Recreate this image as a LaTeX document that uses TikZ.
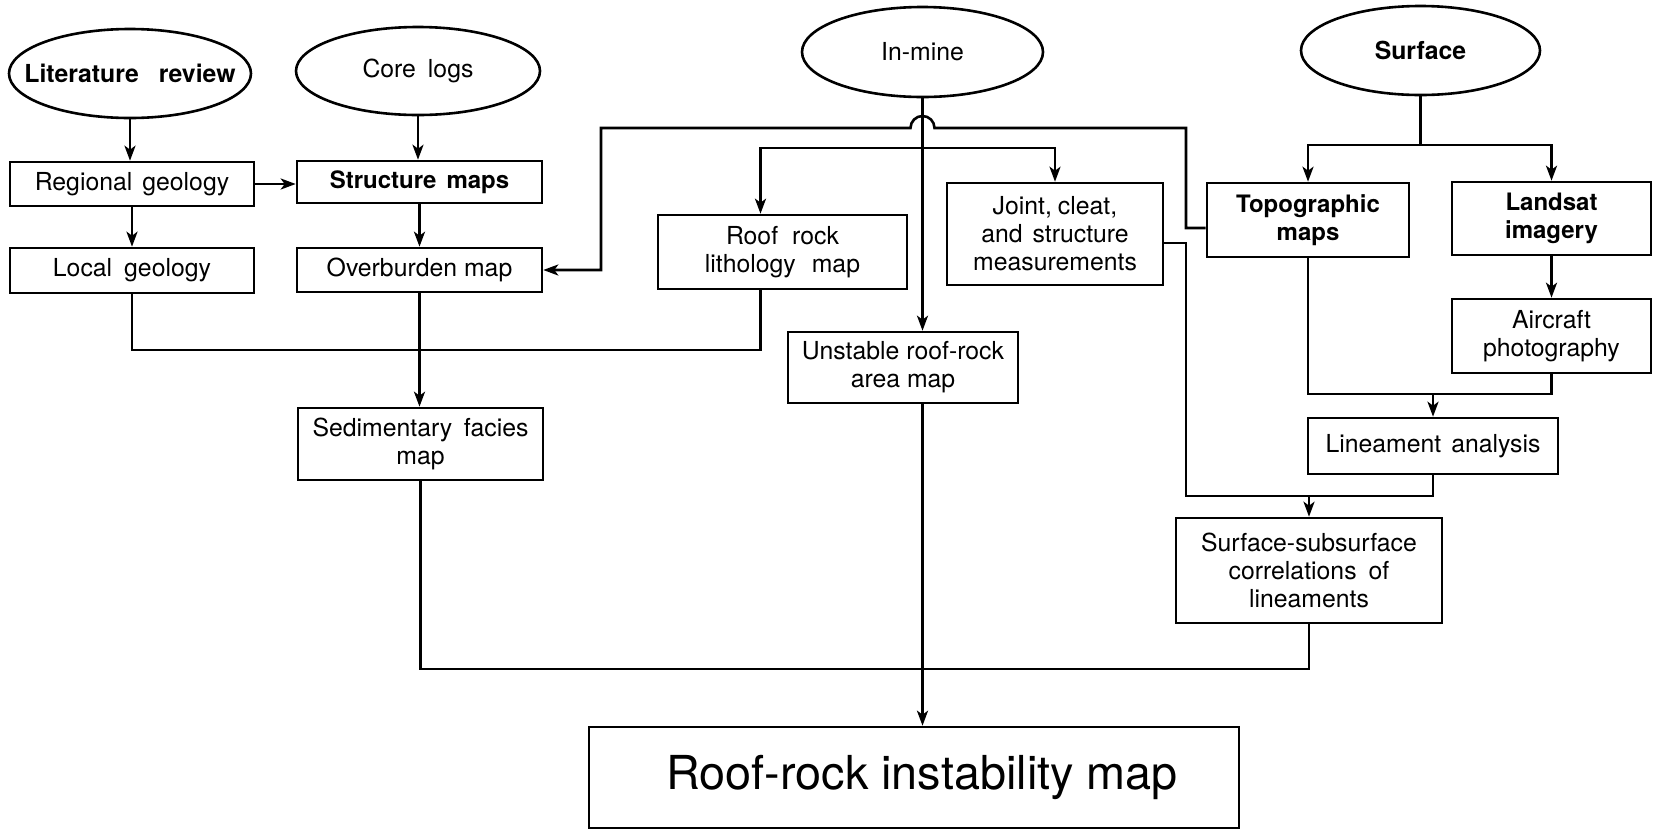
\documentclass[tikz,border=0pt]{standalone}
\usepackage{fontspec}
\setmainfont{TeX Gyre Heros}
\usetikzlibrary{shapes.geometric,arrows.meta,calc}
\newcommand{\wsp}[1]{\hspace{#1pt}}
\begin{document}
\begin{tikzpicture}[x=0.5pt,y=-0.5pt,line width=1.3pt,
  arr/.style={-{Stealth[length=7.5pt,width=5.5pt,inset=2pt]}},
  boxnode/.style={draw, rectangle, inner sep=0pt, align=center, font=\fontsize{12.4}{14}\selectfont},
  boldbox/.style={boxnode, font=\fontsize{12}{14}\selectfont\bfseries},
  oval/.style={draw, ellipse, inner sep=0pt, font=\fontsize{12.4}{14}\selectfont}]
\useasboundingbox (0,0) rectangle (1653,831);

% ovals
\node[oval, minimum width=121pt, minimum height=44.5pt] (lit) at (130,73.5) {\makebox[0pt]{\bfseries Literature\wsp{10}review}};
\node[oval, minimum width=122pt, minimum height=44pt] (core) at (418,71) {\makebox[0pt]{Core\wsp{6}logs}};
\node[oval, minimum width=120.5pt, minimum height=45pt] (inmine) at (922.5,52) {\makebox[0pt]{In-mine}};
\node[oval, minimum width=119.5pt, minimum height=44.5pt] (surface) at (1420.5,50.5) {\makebox[0pt]{\bfseries Surface}};

% boxes
\node[boxnode, minimum width=122pt, minimum height=22pt] (regional) at (132,184) {Regional\wsp{5}geology};
\node[boldbox, minimum width=122.5pt, minimum height=21pt] (structure) at (419.5,182) {Structure\wsp{5}maps};
\node[boxnode, minimum width=122pt, minimum height=22.5pt] (local) at (132,270.5) {Local\wsp{6}geology};
\node[boxnode, minimum width=122.5pt, minimum height=22pt] (overburden) at (419.5,270) {Overburden map};
\node[boxnode, minimum width=124.5pt, minimum height=37pt] (roofrock) at (782.5,252) {Roof\wsp{7}rock\\lithology\wsp{8}map};
\node[boxnode, minimum width=108pt, minimum height=51pt] (joint) at (1055,234) {Joint,\wsp{3}cleat,\\and\wsp{5}structure\\measurements};
\node[boldbox, minimum width=101pt, minimum height=37pt] (topo) at (1308,220) {Topographic\\maps};
\node[boldbox, minimum width=99.5pt, minimum height=36.5pt] (landsat) at (1551.5,218.5) {Landsat\\imagery};
\node[boxnode, minimum width=99.5pt, minimum height=37pt] (aircraft) at (1551.5,336) {Aircraft\\photography};
\node[boxnode, minimum width=125pt, minimum height=28pt] (lineament) at (1433,446) {Lineament\wsp{5}analysis};
\node[boxnode, minimum width=133pt, minimum height=52.5pt] (surfsub) at (1309,570.5) {Surface-subsurface\\correlations\wsp{6}of\\lineaments};
\node[boxnode, minimum width=115pt, minimum height=35.5pt] (unstable) at (903,367.5) {Unstable roof-rock\\area map};
\node[boxnode, minimum width=122.5pt, minimum height=36pt] (sedim) at (420.5,444) {\makebox[108pt][s]{Sedimentary facies}\\map};
\node[boxnode, minimum width=325pt, minimum height=50.5pt, font=\fontsize{23.4}{27}\selectfont] (instab) at (914,777.5) {\hspace{8pt}Roof-rock instability map};

% helper coordinates
\coordinate (rrs) at ([xshift=-11pt]roofrock.south);
\coordinate (jl) at (0,350);
\coordinate (ys) at (0,148);
\coordinate (hy) at (0,128);
\coordinate (hxl) at (601,0);
\coordinate (hxr) at (1186,0);
\coordinate (jy) at (0,496);
\coordinate (sy) at (0,145);
\coordinate (ly) at (0,394);
\coordinate (by) at (0,669);
\coordinate (tw) at ([yshift=-4pt]topo.west);
\coordinate (je) at ([yshift=-4.5pt]joint.east);
\coordinate (hopc) at (inmine.south |- hy);

% left column
\draw[arr] (lit.south) -- (lit.south |- regional.north);
\draw[arr] (core.south) -- (core.south |- structure.north);
\draw[arr] (regional.east) -- (regional.east -| structure.west);
\draw[arr] (regional.south) -- (regional.south |- local.north);
\draw[arr] (structure.south) -- (structure.south |- overburden.north);
\draw[arr] (overburden.south) -- (overburden.south |- sedim.north);
\draw (local.south) |- (rrs |- jl) -- (rrs);

% in-mine
\draw (inmine.south) -- (inmine.south |- ys);
\draw[arr] (inmine.south |- ys) -| (rrs |- roofrock.north);
\draw[arr] (inmine.south |- ys) -| (joint.north);
\draw[arr] (inmine.south |- ys) -- (inmine.south |- unstable.north);
\draw[arr] (inmine.south |- unstable.south) -- (inmine.south |- instab.north);

% topographic -> overburden (with hop)
\draw[arr] (tw) -- (hxr |- tw) -- (hxr |- hy) -- ([xshift=6pt]hopc)
  arc[start angle=0, end angle=180, radius=6pt] -- (hxl |- hy) -- (hxl |- overburden.east) -- (overburden.east);

% joint -> surface-subsurface
\draw (je) -- (hxr |- je) -- (hxr |- jy) -- (lineament.south |- jy) -- (lineament.south);
\draw[arr] (surfsub.north |- jy) -- (surfsub.north);

% surface
\draw (surface.south) -- (surface.south |- sy);
\draw[arr] (surface.south |- sy) -| (topo.north);
\draw[arr] (surface.south |- sy) -| (landsat.north);
\draw[arr] (landsat.south) -- (aircraft.north);
\draw (topo.south) |- (aircraft.south |- ly) -- (aircraft.south);
\draw[arr] (lineament.north |- ly) -- (lineament.north);

% to final map
\draw (sedim.south) |- (surfsub.south |- by) -- (surfsub.south);
\end{tikzpicture}
\end{document}
